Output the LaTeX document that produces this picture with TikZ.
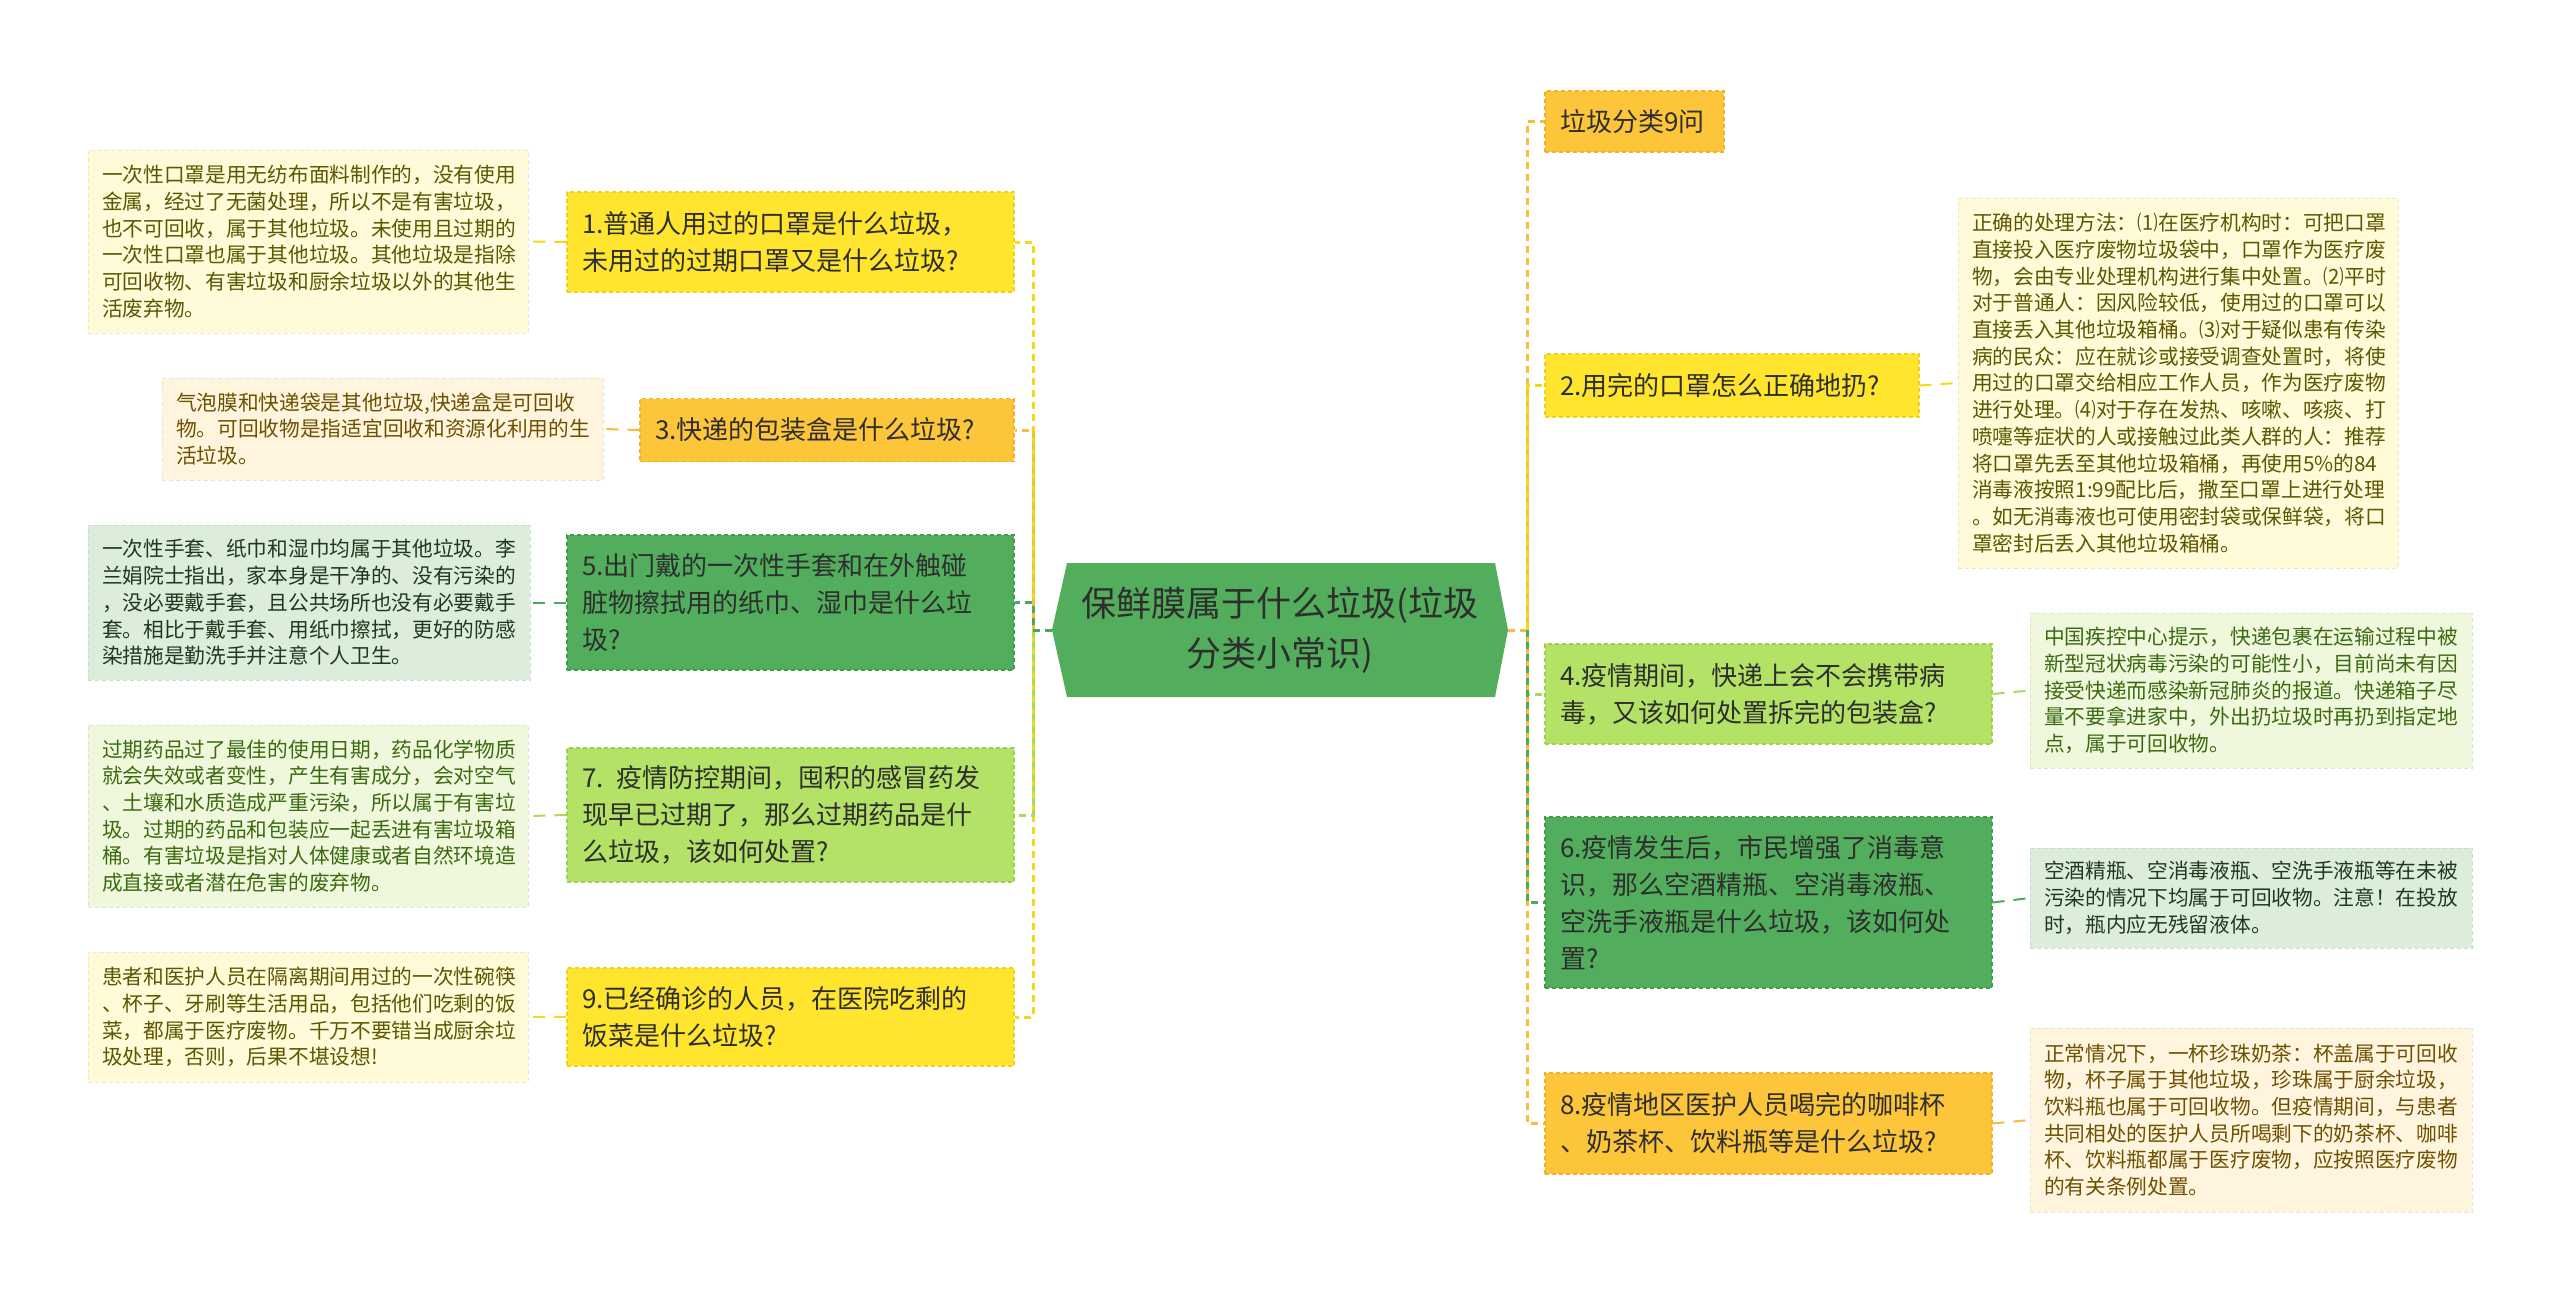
\documentclass[tikz,border=0pt]{standalone}
\usepackage{fontspec}
\setmainfont{Noto Sans CJK SC}
\definecolor{cyel}{HTML}{FFE52E}
\definecolor{cyelB}{HTML}{EFD11A}
\definecolor{corg}{HTML}{FDC53A}
\definecolor{corgB}{HTML}{EDB22A}
\definecolor{cdg}{HTML}{52AD5C}
\definecolor{cdgB}{HTML}{419B4B}
\definecolor{clg}{HTML}{B3E266}
\definecolor{clgB}{HTML}{9ED04F}
\definecolor{dyel}{HTML}{FFFBD8}
\definecolor{dyelT}{HTML}{5E5600}
\definecolor{dorg}{HTML}{FFF5DE}
\definecolor{dorgT}{HTML}{6E5000}
\definecolor{dmint}{HTML}{DCEEDB}
\definecolor{dmintT}{HTML}{1E3A1E}
\definecolor{dlg}{HTML}{EFF8DC}
\definecolor{dlgT}{HTML}{3C6A10}
\definecolor{lyel}{HTML}{F5D916}
\definecolor{lorg}{HTML}{F8BE36}
\definecolor{ldg}{HTML}{4CAB58}
\definecolor{llg}{HTML}{A9DC5C}
\definecolor{qtext}{HTML}{2E2E2E}
\begin{document}
\begin{tikzpicture}[x=1pt,y=-1pt,
  qbox/.style={draw, dash pattern=on 4pt off 3pt, line width=1.2pt, inner xsep=15pt, inner ysep=0pt,
    align=left, font=\fontsize{26}{37}\selectfont, text=qtext},
  dbox/.style={draw, dash pattern=on 4pt off 3pt, line width=0.8pt, inner xsep=14pt, inner ysep=0pt,
    align=left, font=\fontsize{20.7}{26.7}\selectfont},
  yq/.style={qbox, fill=cyel, draw=cyelB},
  oq/.style={qbox, fill=corg, draw=corgB},
  gq/.style={qbox, fill=cdg, draw=cdgB},
  lq/.style={qbox, fill=clg, draw=clgB},
  yd/.style={dbox, fill=dyel, draw=dyel!92!black, text=dyelT},
  od/.style={dbox, fill=dorg, draw=dorg!92!black, text=dorgT},
  md/.style={dbox, fill=dmint, draw=dmint!92!black, text=dmintT},
  ld/.style={dbox, fill=dlg, draw=dlg!92!black, text=dlgT},
  branch/.style={line width=3pt, dash pattern=on 7pt off 5pt},
  dlink/.style={line width=2pt, dash pattern=on 12pt off 9pt}
]
\useasboundingbox (0,0) rectangle (2560,1301);
\fill[white] (0,0) rectangle (2560,1301);

% root
\fill[cdg] (1052,630) -- (1067,563) -- (1495,563) -- (1508,630) -- (1495,697) -- (1067,697) -- cycle;
\node[align=center, font=\fontsize{35}{50}\selectfont, text=qtext] (root) at (1280,630) {保鲜膜属于什么垃圾(垃圾\\分类小常识)};
\coordinate (rootL) at (1052,630);
\coordinate (rootR) at (1508,630);
\coordinate (LT) at (1033,630);
\coordinate (RT) at (1527,630);

% left questions
\node[yq, text width=417pt, minimum height=100pt] (q1) at (790.5,242) {1.普通人用过的口罩是什么垃圾，\\未用过的过期口罩又是什么垃圾?};
\node[oq, text width=344pt, minimum height=63pt] (q3) at (827,430) {3.快递的包装盒是什么垃圾?};
\node[gq, text width=417pt, minimum height=135pt] (q5) at (790.5,602.5) {5.出门戴的一次性手套和在外触碰\\脏物擦拭用的纸巾、湿巾是什么垃\\圾?};
\node[lq, text width=417pt, minimum height=134pt] (q7) at (790.5,815) {7. 疫情防控期间，囤积的感冒药发\\现早已过期了，那么过期药品是什\\么垃圾，该如何处置?};
\node[yq, text width=417pt, minimum height=98pt] (q9) at (790.5,1017) {9.已经确诊的人员，在医院吃剩的\\饭菜是什么垃圾?};

% left details
\node[yd, text width=412pt, minimum height=183pt] (d1) at (308,241.5) {一次性口罩是用无纺布面料制作的，没有使用\\金属，经过了无菌处理，所以不是有害垃圾，\\也不可回收，属于其他垃圾。未使用且过期的\\一次性口罩也属于其他垃圾。其他垃圾是指除\\可回收物、有害垃圾和厨余垃圾以外的其他生\\活废弃物。};
\node[od, text width=413pt, minimum height=102pt] (d3) at (382.5,429) {气泡膜和快递袋是其他垃圾,快递盒是可回收\\物。可回收物是指适宜回收和资源化利用的生\\活垃圾。};
\node[md, text width=414pt, minimum height=155pt] (d5) at (309,602.5) {一次性手套、纸巾和湿巾均属于其他垃圾。李\\兰娟院士指出，家本身是干净的、没有污染的\\，没必要戴手套，且公共场所也没有必要戴手\\套。相比于戴手套、用纸巾擦拭，更好的防感\\染措施是勤洗手并注意个人卫生。};
\node[ld, text width=412pt, minimum height=182pt] (d7) at (308,816) {过期药品过了最佳的使用日期，药品化学物质\\就会失效或者变性，产生有害成分，会对空气\\、土壤和水质造成严重污染，所以属于有害垃\\圾。过期的药品和包装应一起丢进有害垃圾箱\\桶。有害垃圾是指对人体健康或者自然环境造\\成直接或者潜在危害的废弃物。};
\node[yd, text width=412pt, minimum height=130pt] (d9) at (308,1017) {患者和医护人员在隔离期间用过的一次性碗筷\\、杯子、牙刷等生活用品，包括他们吃剩的饭\\菜，都属于医疗废物。千万不要错当成厨余垃\\圾处理，否则，后果不堪设想!};

% right questions
\node[oq, text width=149pt, minimum height=61pt] (r0) at (1634.5,121.5) {垃圾分类9问};
\node[yq, text width=344pt, minimum height=63pt] (r2) at (1732,385.5) {2.用完的口罩怎么正确地扔?};
\node[lq, text width=417pt, minimum height=100pt] (r4) at (1768.5,694) {4.疫情期间，快递上会不会携带病\\毒，又该如何处置拆完的包装盒?};
\node[gq, text width=417pt, minimum height=171pt] (r6) at (1768.5,902.5) {6.疫情发生后，市民增强了消毒意\\识，那么空酒精瓶、空消毒液瓶、\\空洗手液瓶是什么垃圾，该如何处\\置?};
\node[oq, text width=417pt, minimum height=101pt] (r8) at (1768.5,1123.5) {8.疫情地区医护人员喝完的咖啡杯\\、奶茶杯、饮料瓶等是什么垃圾?};

% right details
\node[yd, text width=412pt, minimum height=370pt] (rd2) at (2178,383) {正确的处理方法：⑴在医疗机构时：可把口罩\\直接投入医疗废物垃圾袋中，口罩作为医疗废\\物，会由专业处理机构进行集中处置。⑵平时\\对于普通人：因风险较低，使用过的口罩可以\\直接丢入其他垃圾箱桶。⑶对于疑似患有传染\\病的民众：应在就诊或接受调查处置时，将使\\用过的口罩交给相应工作人员，作为医疗废物\\进行处理。⑷对于存在发热、咳嗽、咳痰、打\\喷嚏等症状的人或接触过此类人群的人：推荐\\将口罩先丢至其他垃圾箱桶，再使用5\%的84\\消毒液按照1:99配比后，撒至口罩上进行处理\\。如无消毒液也可使用密封袋或保鲜袋，将口\\罩密封后丢入其他垃圾箱桶。};
\node[ld, text width=414pt, minimum height=155pt] (rd4) at (2251,690.5) {中国疾控中心提示，快递包裹在运输过程中被\\新型冠状病毒污染的可能性小，目前尚未有因\\接受快递而感染新冠肺炎的报道。快递箱子尽\\量不要拿进家中，外出扔垃圾时再扔到指定地\\点，属于可回收物。};
\node[md, text width=414pt, minimum height=100pt] (rd6) at (2251,898) {空酒精瓶、空消毒液瓶、空洗手液瓶等在未被\\污染的情况下均属于可回收物。注意！在投放\\时，瓶内应无残留液体。};
\node[od, text width=414pt, minimum height=184pt] (rd8) at (2251,1120) {正常情况下，一杯珍珠奶茶：杯盖属于可回收\\物，杯子属于其他垃圾，珍珠属于厨余垃圾，\\饮料瓶也属于可回收物。但疫情期间，与患者\\共同相处的医护人员所喝剩下的奶茶杯、咖啡\\杯、饮料瓶都属于医疗废物，应按照医疗废物\\的有关条例处置。};

% branches left
\draw[branch, lyel] (rootL) -- (LT) |- (q1.east);
\draw[branch, lyel] (rootL) -- (LT) |- (q9.east);
\draw[branch, lorg] (LT) |- (q3.east);
\draw[branch, llg] (LT) |- (q7.east);
\draw[branch, ldg] (rootL) -- (LT) |- (q5.east);

% branches right
\draw[branch, lorg] (rootR) -- (RT) |- (r0.west);
\draw[branch, lorg] (rootR) -- (RT) |- (r8.west);
\draw[branch, lyel] (RT) |- (r2.west);
\draw[branch, llg] (RT) |- (r4.west);
\draw[branch, ldg] (RT) |- (r6.west);

% detail links
\draw[dlink, lyel] (q1.west) -- (d1.east);
\draw[dlink, lorg] (q3.west) -- (d3.east);
\draw[dlink, ldg] (q5.west) -- (d5.east);
\draw[dlink, llg] (q7.west) -- (d7.east);
\draw[dlink, lyel] (q9.west) -- (d9.east);
\draw[dlink, lyel] (r2.east) -- (rd2.west);
\draw[dlink, llg] (r4.east) -- (rd4.west);
\draw[dlink, ldg] (r6.east) -- (rd6.west);
\draw[dlink, lorg] (r8.east) -- (rd8.west);
\end{tikzpicture}
\end{document}
